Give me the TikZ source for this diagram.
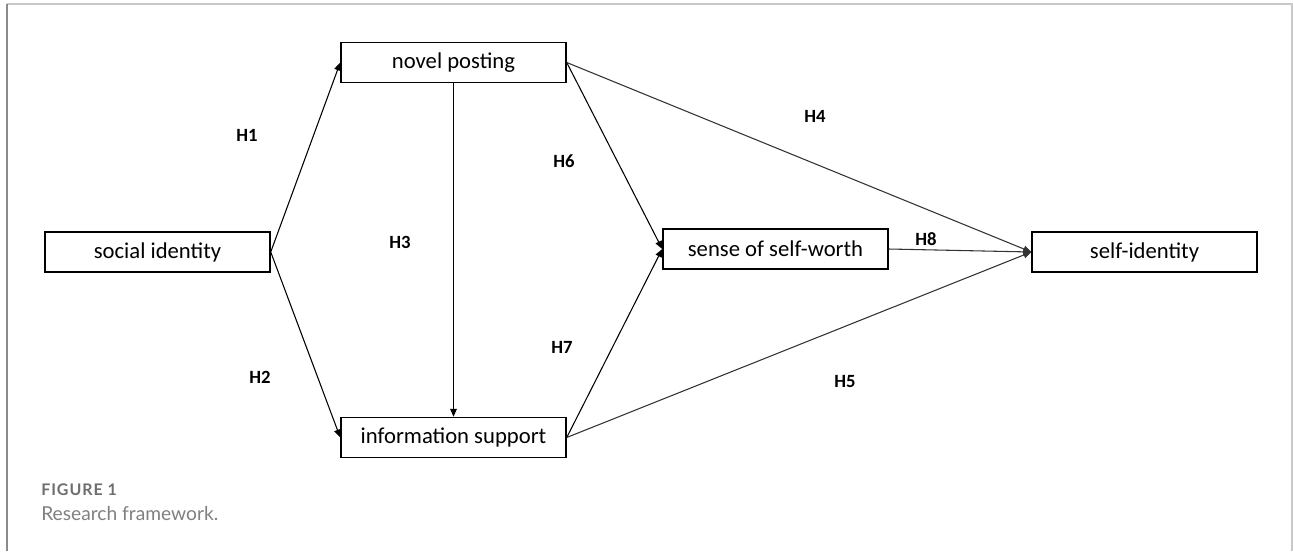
\documentclass[tikz,border=0pt]{standalone}
\usepackage{fontspec}
\setmainfont{Carlito}
\newfontfamily\capfont{Lato}
\newfontfamily\capfontsp[LetterSpace=6]{Lato}
\usetikzlibrary{arrows.meta}
\definecolor{framegray}{HTML}{C8C8C8}
\definecolor{framedark}{HTML}{8A8A8A}
\definecolor{capgray}{HTML}{6E6E6E}
\definecolor{capgraylight}{HTML}{808080}
\tikzset{
  box/.style={draw=black, line width=1.1pt, minimum width=168.75pt, minimum height=30pt, inner sep=0pt, font=\fontsize{17}{20}\selectfont},
  hlabel/.style={font=\fontsize{14}{16}\selectfont\bfseries, inner sep=0pt},
  conn/.style={line width=0.8pt, -{Triangle[length=6pt,width=5pt]}},
  connlight/.style={line width=0.8pt, draw=black!80, -{Triangle[length=6pt,width=5pt]}},
}
\begin{document}
\begin{tikzpicture}[x=0.75pt,y=-0.75pt]
\useasboundingbox (0,0) rectangle (1293,551);
% frame
\draw[framegray, line width=1.2pt] (7,4) -- (1292,4) -- (1292,551);
\draw[framedark, line width=1.2pt] (7,4) -- (7,551);
% boxes
\node[box] (si) at (157.5,252) {social identity};
\node[box] (np) at (453.5,62.5) {novel posting};
\node[box] (is) at (453.5,437.5) {information support};
\node[box] (sw) at (775.5,249) {sense of self-worth};
\node[box] (sid) at (1144.5,252) {self-identity};
% connectors
\draw[conn] (si.east) -- (np.west);
\draw[conn] (si.east) -- (is.west);
\draw[conn] (np.south) -- (is.north);
\draw[conn] (np.east) -- (sw.west);
\draw[conn] (is.east) -- (sw.west);
\draw[connlight] (np.east) -- (sid.west);
\draw[connlight] (is.east) -- (sid.west);
\draw[connlight] (sw.east) -- (sid.west);
% labels
\node[hlabel] (h1) at (247,135) {H1};
\node[hlabel] (h2) at (260,377) {H2};
\node[hlabel] (h3) at (400,242) {H3};
\node[hlabel] (h4) at (815,116) {H4};
\node[hlabel] (h5) at (845,382) {H5};
\node[hlabel] (h6) at (564,161) {H6};
\node[hlabel] (h7) at (562,347) {H7};
\node[hlabel] (h8) at (926,239) {H8};
% caption
\node[anchor=west, inner sep=0pt, text=capgray, font=\capfontsp\bfseries\fontsize{12}{14}\selectfont] (fig) at (41,490) {FIGURE 1};
\node[anchor=west, inner sep=0pt, text=capgraylight, font=\capfont\fontsize{14.4}{17}\selectfont] (cap) at (41,513) {Research framework.};
\end{tikzpicture}
\end{document}
